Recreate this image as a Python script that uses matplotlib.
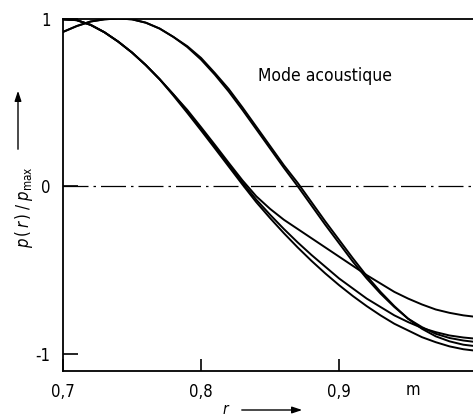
import matplotlib
matplotlib.use("Agg")
import matplotlib.pyplot as plt

plt.rcParams["font.family"] = ["DejaVu Sans"]
plt.rcParams["font.stretch"] = "condensed"
plt.rcParams["mathtext.fontset"] = "dejavusans"

# radius r in m
r = [0.70, 0.71, 0.72, 0.73, 0.74, 0.75, 0.76, 0.77, 0.78, 0.79, 0.80,
     0.81, 0.82, 0.83, 0.84, 0.85, 0.86, 0.87, 0.88, 0.89, 0.90,
     0.91, 0.92, 0.93, 0.94, 0.95, 0.96, 0.97, 0.98, 0.99, 1.00]

# curves peaking near r = 0.74
p_peak_a = [0.92, 0.955, 0.982, 0.995, 1.0, 0.995, 0.975, 0.94, 0.89, 0.83, 0.755,
            0.665, 0.565, 0.455, 0.34, 0.225, 0.11, 0.0, -0.115, -0.23, -0.34,
            -0.45, -0.55, -0.64, -0.72, -0.79, -0.84, -0.88, -0.905, -0.92, -0.93]
p_peak_b = [0.92, 0.955, 0.982, 0.995, 1.0, 0.995, 0.975, 0.94, 0.89, 0.835, 0.765,
            0.675, 0.58, 0.47, 0.355, 0.24, 0.125, 0.02, -0.095, -0.21, -0.32,
            -0.43, -0.535, -0.63, -0.715, -0.79, -0.85, -0.895, -0.925, -0.945, -0.955]

# curves starting at the maximum at r = 0.7
p_wall_a = [0.995, 0.99, 0.962, 0.918, 0.862, 0.797, 0.722, 0.638, 0.54, 0.438, 0.333,
            0.226, 0.118, 0.01, -0.095, -0.19, -0.28, -0.365, -0.445, -0.52, -0.59,
            -0.655, -0.715, -0.77, -0.82, -0.86, -0.90, -0.93, -0.955, -0.972, -0.982]
p_wall_b = [0.995, 0.99, 0.962, 0.918, 0.862, 0.797, 0.722, 0.638, 0.547, 0.447, 0.343,
            0.237, 0.13, 0.022, -0.08, -0.17, -0.255, -0.335, -0.41, -0.48, -0.55,
            -0.61, -0.67, -0.72, -0.77, -0.81, -0.845, -0.87, -0.89, -0.902, -0.91]
p_wall_c = [0.995, 0.99, 0.962, 0.918, 0.862, 0.797, 0.722, 0.638, 0.547, 0.455, 0.352,
            0.247, 0.14, 0.035, -0.06, -0.135, -0.20, -0.255, -0.31, -0.365, -0.42,
            -0.475, -0.53, -0.58, -0.63, -0.67, -0.705, -0.735, -0.755, -0.77, -0.78]

fig = plt.figure(figsize=(4.73, 4.16), dpi=100)
ax = fig.add_axes([63 / 473, 45.3 / 416, 410 / 473, 352.2 / 416])

for ys in (p_peak_a, p_peak_b, p_wall_a, p_wall_b, p_wall_c):
    ax.plot(r, ys, color="black", lw=1.4, solid_joinstyle="round",
            solid_capstyle="round")

ax.axhline(0, color="black", lw=0.9, ls=(0, (20, 4, 2, 4)))

ax.set_xlim(0.7, 0.997)
ax.set_ylim(-1.1, 1.0)
ax.spines["right"].set_visible(False)
for s in ("left", "bottom", "top"):
    ax.spines[s].set_linewidth(1.3)

ax.set_xticks([0.7, 0.8, 0.9])
ax.set_xticklabels(["0,7", "0,8", "0,9"])
ax.set_yticks([-1, 0, 1])
ax.set_yticklabels(["-1", "0", "1"])
ax.tick_params(axis="x", direction="in", length=9, width=1.2, pad=9, labelsize=12)
ax.tick_params(axis="y", direction="in", length=11, width=1.2, pad=9, labelsize=12)

fig.text(413 / 473, 1 - 395 / 416, "m", ha="center", va="baseline", fontsize=12)

ax.text(0.89, 0.66, "Mode acoustique", fontsize=12.5, ha="center", va="center")

# axis labels with arrows
fig.text(24 / 473, 1 - 207 / 416, r"$p\,(\,r\,)\;/\;p_{\mathrm{max}}$",
         rotation=90, ha="center", va="center", fontsize=12)
fig.add_artist(matplotlib.patches.FancyArrowPatch(
    (18 / 473, 1 - 152 / 416), (18 / 473, 1 - 88 / 416),
    transform=fig.transFigure, arrowstyle="-|>,head_length=6,head_width=2",
    color="black", lw=1.0))

fig.text(226 / 473, 1 - 409 / 416, r"$r$", ha="center", va="center", fontsize=11)
fig.add_artist(matplotlib.patches.FancyArrowPatch(
    (239 / 473, 1 - 410 / 416), (305 / 473, 1 - 410 / 416),
    transform=fig.transFigure, arrowstyle="-|>,head_length=6,head_width=2",
    color="black", lw=1.0))

fig.savefig("out.png", dpi=100)
